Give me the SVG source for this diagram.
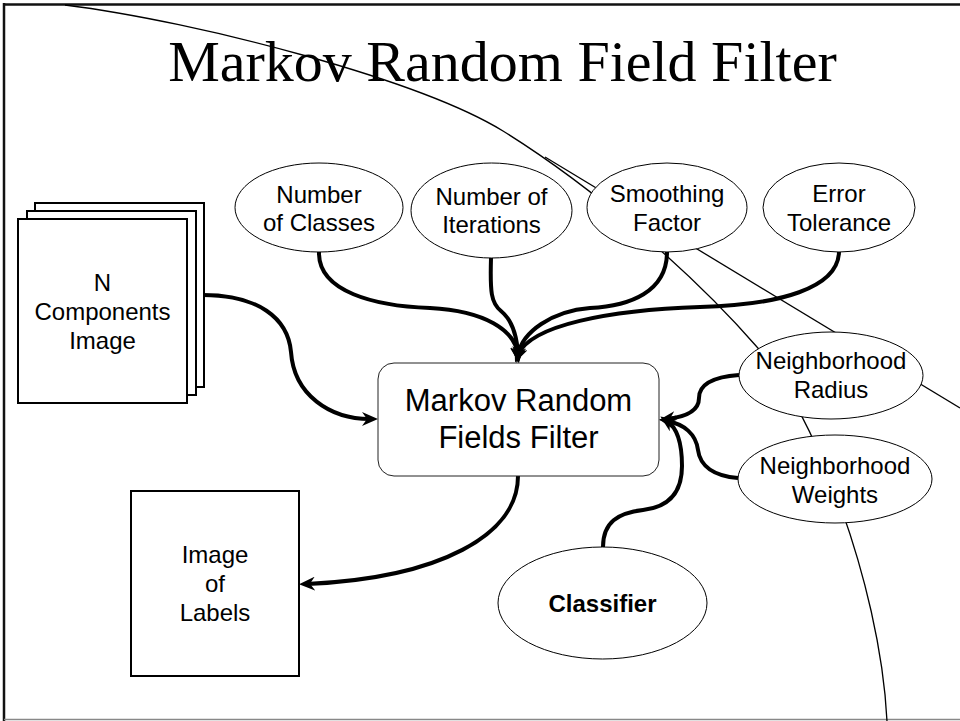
<svg xmlns="http://www.w3.org/2000/svg" width="960" height="721" viewBox="0 0 960 721">
<defs>
<style>
.frame{stroke:#111;stroke-width:2.5;fill:none}
.deco{stroke:#000;stroke-width:1.3;fill:none}
.ell{fill:#fff;stroke:#000;stroke-width:1}
.box{fill:#fff;stroke:#000;stroke-width:2}
.rbox{fill:#fff;stroke:#222;stroke-width:1}
.t{font-family:"Liberation Sans",Arial,sans-serif;font-size:24px;text-anchor:middle;fill:#000}
.b{font-weight:bold}
.big{font-size:31px}
.title{font-family:"Liberation Serif","Times New Roman",serif;font-size:58px;text-anchor:middle;fill:#000}
.conn{fill:none;stroke:#000;stroke-width:4;marker-end:url(#arr)}
</style>
<marker id="arr" markerUnits="userSpaceOnUse" viewBox="0 0 16 14" markerWidth="16" markerHeight="14" refX="8" refY="7" orient="auto">
<path d="M0,0 L16,7 L0,14 L5,7 z" fill="#000"/>
</marker>
</defs>
<rect x="0" y="0" width="960" height="721" fill="#fff"/>
<g id="frame">
<line class="frame" x1="4" y1="3" x2="4" y2="721"/>
<line class="frame" x1="3" y1="4.5" x2="960" y2="4.5"/>
<line x1="4" y1="719.5" x2="960" y2="719.5" stroke="#888" stroke-width="1.5"/>
</g>
<g id="decor">
<path class="deco" d="M65,5 C200,22 420,80 503,131 C590,185 690,270 757,347 C810,405 880,580 887,721"/>
<line class="deco" x1="545" y1="157" x2="960" y2="408"/>
</g>
<text class="title" x="502.5" y="81">Markov Random Field Filter</text>
<g id="connectors">
<path class="conn" d="M203,295 C258,295 288,318 291,352 C294,395 330,419 370,419"/>
<path class="conn" d="M319,252 C318,292 375,306 430,308 C485,311 515,330 518,355"/>
<path class="conn" d="M491,258 C490,292 491,303 501,311 C512,320 517,335 518,355"/>
<path class="conn" d="M667,252 C667,292 630,306 590,308 C552,311 522,332 518,355"/>
<path class="conn" d="M839,252 C838,288 780,305 700,307 C610,310 530,325 518,355"/>
<path class="conn" d="M739,375 C712,377 699,385 699,398 C699,411 685,417 667,419"/>
<path class="conn" d="M738,478 C714,476 700,466 698,450 C696,434 684,424 667,421"/>
<path class="conn" d="M603,547 C603,522 618,513 643,510 C670,507 682,492 682,466 C682,440 676,427 667,421"/>
<path class="conn" d="M518,476 C518,535 440,578 307,584"/>
</g>
<g id="n-components">
<rect class="box" x="35" y="203" width="169" height="184"/>
<rect class="box" x="27" y="211" width="169" height="184"/>
<rect class="box" x="18" y="219" width="169" height="184"/>
<text class="t" x="102.5" y="291">N</text>
<text class="t" x="102.5" y="320">Components</text>
<text class="t" x="102.5" y="349">Image</text>
</g>
<g id="num-classes">
<ellipse class="ell" cx="319" cy="207.5" rx="84" ry="44.5"/>
<text class="t" x="319" y="203">Number</text>
<text class="t" x="319" y="231">of Classes</text>
</g>
<g id="num-iterations">
<ellipse class="ell" cx="491.5" cy="210.5" rx="80.5" ry="47.5"/>
<text class="t" x="491.5" y="205">Number of</text>
<text class="t" x="491.5" y="233">Iterations</text>
</g>
<g id="smoothing">
<ellipse class="ell" cx="667" cy="207.5" rx="80" ry="44.5"/>
<text class="t" x="667" y="202">Smoothing</text>
<text class="t" x="667" y="231">Factor</text>
</g>
<g id="error-tolerance">
<ellipse class="ell" cx="839" cy="207.5" rx="76" ry="44.5"/>
<text class="t" x="839" y="202">Error</text>
<text class="t" x="839" y="231">Tolerance</text>
</g>
<g id="mrf-filter">
<rect class="rbox" x="378" y="363" width="281" height="113" rx="16" ry="16"/>
<text class="t big" x="518.5" y="411">Markov Random</text>
<text class="t big" x="518.5" y="448">Fields Filter</text>
</g>
<g id="nb-radius">
<ellipse class="ell" cx="831" cy="375.5" rx="92" ry="43.5"/>
<text class="t" x="831" y="369">Neighborhood</text>
<text class="t" x="831" y="398">Radius</text>
</g>
<g id="nb-weights">
<ellipse class="ell" cx="835" cy="479" rx="97" ry="44"/>
<text class="t" x="835" y="474">Neighborhood</text>
<text class="t" x="835" y="503">Weights</text>
</g>
<g id="classifier">
<ellipse class="ell" cx="602.5" cy="603" rx="104.5" ry="56"/>
<text class="t b" x="602.5" y="612">Classifier</text>
</g>
<g id="image-labels">
<rect class="box" x="131" y="491" width="168" height="185"/>
<text class="t" x="215" y="563">Image</text>
<text class="t" x="215" y="592">of</text>
<text class="t" x="215" y="621">Labels</text>
</g>
</svg>
